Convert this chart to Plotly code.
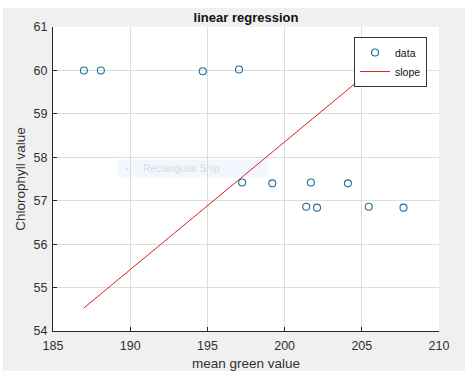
import plotly.graph_objects as go

green_vals = [187.0, 188.1, 194.7, 197.05, 197.25, 199.2, 201.4, 201.7, 202.1, 204.1, 205.45, 207.7]
chl_vals = [60.0, 60.0, 59.98, 60.02, 57.42, 57.4, 56.86, 57.42, 56.84, 57.4, 56.86, 56.84]
slope_x = [187.0, 207.7]
slope_y = [54.53, 60.62]
x_ticks = [185, 190, 195, 200, 205, 210]
y_ticks = [54, 55, 56, 57, 58, 59, 60, 61]

FONT = "Liberation Sans, Arial, sans-serif"

fig = go.Figure()
fig.add_trace(go.Scatter(x=green_vals, y=chl_vals, mode="markers", name="data",
                         marker=dict(symbol="circle-open", size=7, color="#1f6f9a",
                                     line=dict(width=1.1, color="#1f6f9a"))))
fig.add_trace(go.Scatter(x=slope_x, y=slope_y, mode="lines", name="slope",
                         line=dict(color="#d81e1e", width=1)))

fig.update_layout(
    width=465, height=371,
    margin=dict(l=53, r=26, t=27, b=40),
    paper_bgcolor="#f0f0f0", plot_bgcolor="white",
    font=dict(family=FONT, size=12.5, color="#303030"),
    title=dict(text="<b>linear regression</b>", x=0.5, xref="paper", xanchor="center",
               y=1, yref="paper", yanchor="bottom", pad=dict(b=5),
               font=dict(size=13, color="#111111", family=FONT)),
    showlegend=True,
    legend=dict(x=0.969, y=0.967, xanchor="right", yanchor="top",
                bgcolor="white", bordercolor="#333333", borderwidth=1,
                font=dict(size=10.5, color="#111111"),
                tracegroupgap=0, itemwidth=30),
    xaxis=dict(range=[185, 210], tickvals=x_ticks, ticks="inside", ticklen=4,
               tickcolor="#262626", showline=True, linecolor="#262626", linewidth=1,
               showgrid=True, gridcolor="#dcdcdc", gridwidth=1, zeroline=False,
               tickfont=dict(size=12.5), automargin=False, ticklabelstandoff=3,
               title=dict(text="mean green value", standoff=6, font=dict(size=13.5))),
    yaxis=dict(range=[54, 61], tickvals=y_ticks, ticks="inside", ticklen=4,
               tickcolor="#262626", showline=True, linecolor="#262626", linewidth=1,
               showgrid=True, gridcolor="#dcdcdc", gridwidth=1, zeroline=False,
               tickfont=dict(size=12.5), automargin=False, ticklabelstandoff=2,
               title=dict(text="Chlorophyll value", standoff=4, font=dict(size=13.5))),
    shapes=[
        dict(type="rect", xref="paper", yref="paper", x0=-0.2, x1=1.2,
             y0=1.0 + 19/304, y1=1.2, fillcolor="white", line=dict(width=0), layer="below"),
        dict(type="rect", xref="paper", yref="paper", x0=-53/386, x1=-50/386,
             y0=-0.2, y1=1.2, fillcolor="white", line=dict(width=0), layer="below"),
        dict(type="rect", xref="x", yref="y", x0=189.2, x1=198.9, y0=57.55, y1=57.95,
             fillcolor="rgba(225,238,248,0.45)", line=dict(width=0), layer="below"),
    ],
    annotations=[
        dict(x=190.7, y=57.75, xref="x", yref="y", text="Rectangular Snip", showarrow=False,
             xanchor="left", font=dict(size=10, color="#d6dde3")),
        dict(x=189.8, y=57.75, xref="x", yref="y", text="•", showarrow=False,
             font=dict(size=8, color="#d6dde3")),
    ],
)

fig.write_html("out.html")
